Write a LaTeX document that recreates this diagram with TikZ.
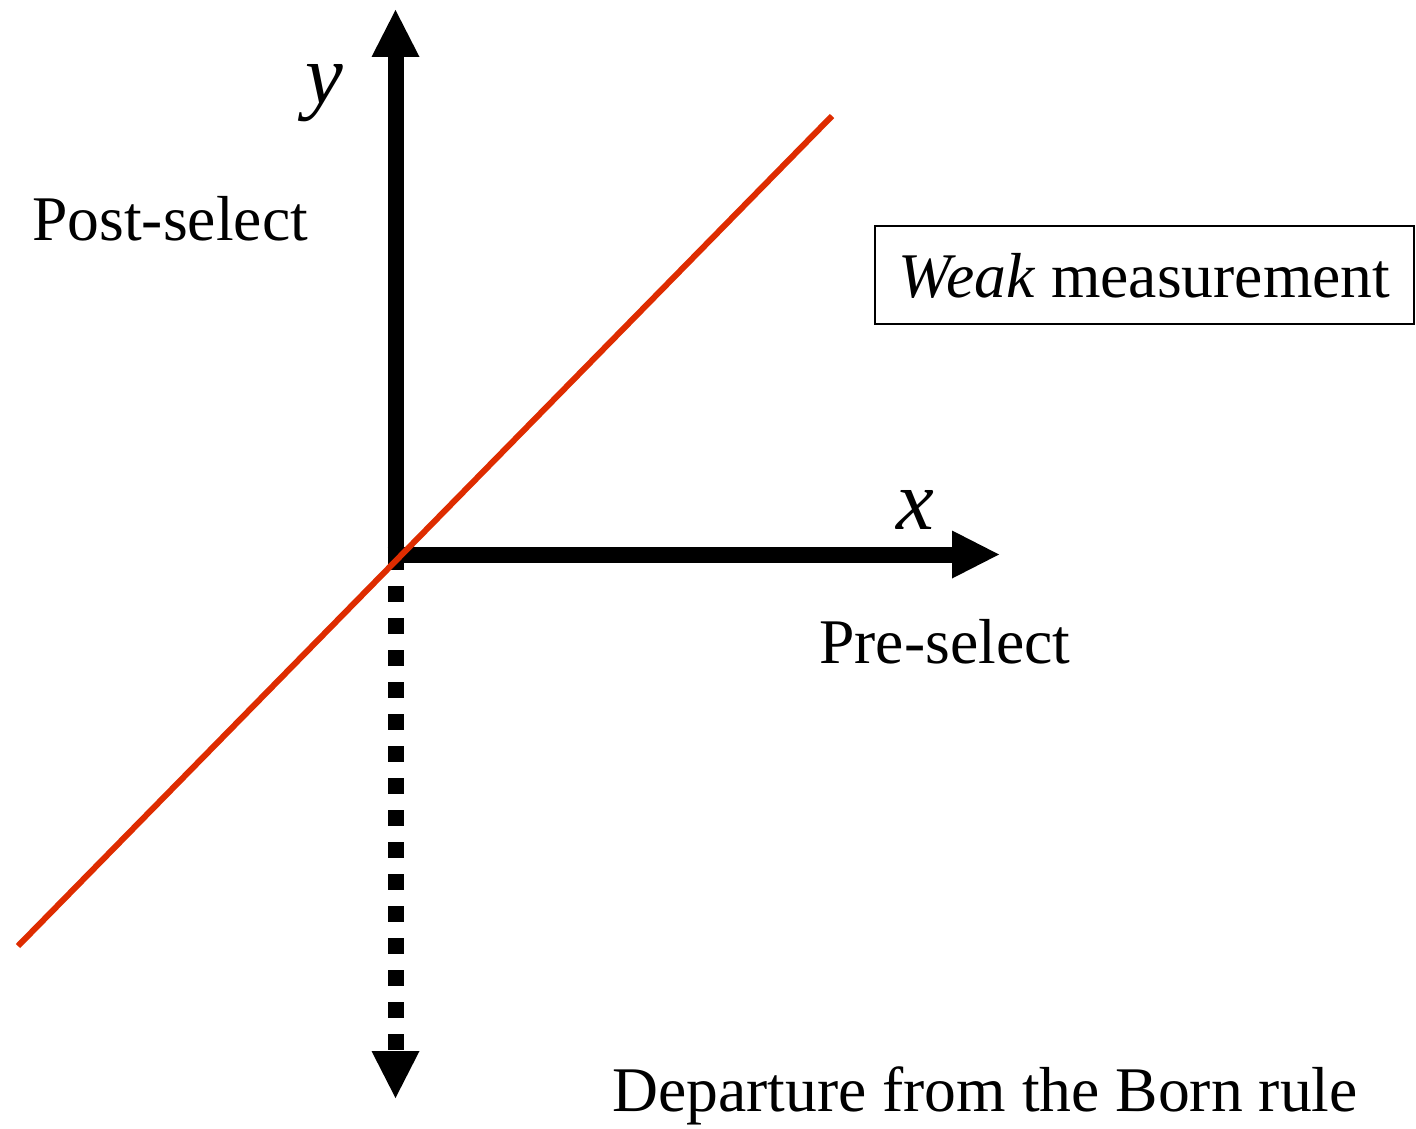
\documentclass[tikz,border=0pt]{standalone}
\usepackage{fontspec}
\setmainfont{Liberation Serif}
\usetikzlibrary{arrows.meta}
\definecolor{redline}{RGB}{222,44,0}
\tikzset{
  axis/.style={line width=8pt, line cap=butt, -{Triangle[width=24pt,length=23.5pt,line width=0pt]}},
  dotaxis/.style={axis, dash pattern=on 8pt off 8pt},
  redl/.style={draw=redline, line width=3pt},
  lab/.style={inner sep=0pt, font=\fontsize{31.8}{38}\selectfont},
  var/.style={inner sep=0pt, anchor=base, font=\fontsize{42.5}{50}\selectfont\itshape},
  labelbox/.style={draw, line width=1pt, inner sep=0pt, minimum width=269.5pt, minimum height=49pt,
    text height=23pt, text depth=0pt, font=\fontsize{31.8}{38}\selectfont}
}
\begin{document}
\begin{tikzpicture}[x=0.5pt,y=-0.5pt]
\useasboundingbox (0,0) rectangle (1416,1128);
% axis points
\coordinate (vstart) at (395.5,570);
\coordinate (ytip) at (395.5,10);
\coordinate (hstart) at (387.5,554.5);
\coordinate (xtip) at (999,554.5);
\coordinate (dstart) at (395.5,586);
\coordinate (dtip) at (395.5,1098);
\coordinate (redA) at (18,946);
\coordinate (redB) at (832,116);
% axes
\draw[axis] (vstart) -- (ytip);
\draw[axis] (hstart) -- (xtip);
\draw[dotaxis] (dstart) -- (dtip);
% red line
\draw[redl] (redA) -- (redB);
% labels
\node[var] (ylab) at (324,104) {y};
\node[var] (xlab) at (915,529) {x};
\node[lab, anchor=base west] (post) at (32,241) {Post-select};
\node[lab, anchor=base west] (pre) at (819,663) {Pre-select};
\node[lab, anchor=base west] (dep) at (612,1111) {Departure from the Born rule};
\node[labelbox] (weak) at (1144.5,275) {\textit{Weak} measurement};
\end{tikzpicture}
\end{document}
